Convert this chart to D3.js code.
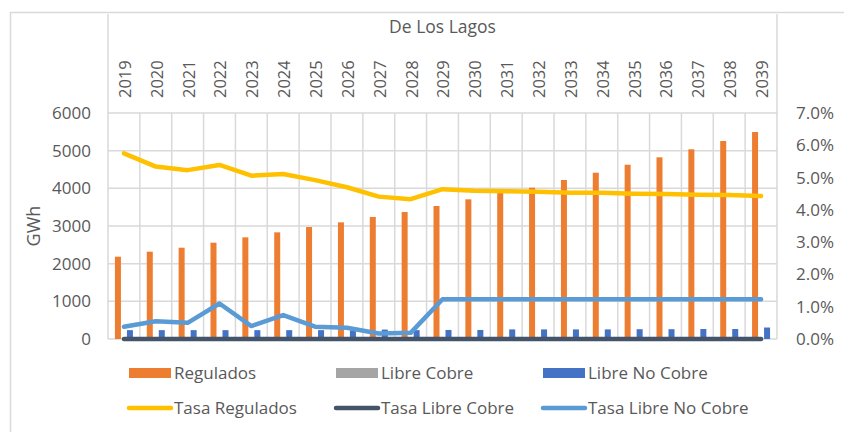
<!DOCTYPE html>
<html>
<head>
<meta charset="utf-8">
<script src="https://cdn.jsdelivr.net/npm/d3@7"></script>
<style>
  html, body { margin: 0; padding: 0; background: #fff; }
  svg { display: block; font-family: 'Open Sans', sans-serif; }
  .chart__text { fill: #595959; }
</style>
</head>
<body>
<div class="chart"></div>
<script>
var years = ['2019', '2020', '2021', '2022', '2023', '2024', '2025', '2026', '2027', '2028',
  '2029', '2030', '2031', '2032', '2033', '2034', '2035', '2036', '2037', '2038', '2039'];

// GWh
var regulados = [2185, 2318, 2424, 2557, 2699, 2832, 2973, 3097, 3239, 3371,
  3531, 3708, 3884, 4017, 4221, 4415, 4627, 4823, 5036, 5256, 5495];
var libreCobre = [0, 0, 0, 0, 0, 0, 0, 0, 0, 0, 0, 0, 0, 0, 0, 0, 0, 0, 0, 0, 0];
var libreNoCobre = [235, 235, 235, 235, 235, 235, 235, 225, 250, 235,
  240, 240, 255, 255, 255, 255, 260, 260, 265, 265, 305];

// tasas, %
var tasaRegulados = [5.75, 5.34, 5.23, 5.39, 5.06, 5.11, 4.92, 4.70, 4.41, 4.33,
  4.64, 4.59, 4.58, 4.56, 4.53, 4.53, 4.50, 4.49, 4.47, 4.46, 4.43];
var tasaLibreCobre = [0, 0, 0, 0, 0, 0, 0, 0, 0, 0, 0, 0, 0, 0, 0, 0, 0, 0, 0, 0, 0];
var tasaLibreNoCobre = [0.38, 0.55, 0.50, 1.10, 0.40, 0.74, 0.38, 0.35, 0.17, 0.19,
  1.23, 1.23, 1.23, 1.23, 1.23, 1.23, 1.23, 1.23, 1.23, 1.23, 1.23];

var leftTicks = [0, 1000, 2000, 3000, 4000, 5000, 6000];
var rightTicks = [0, 1, 2, 3, 4, 5, 6, 7];

var title = 'De Los Lagos';
var yTitle = 'GWh';

var barSeries = [
  { name: 'Regulados', values: regulados, color: '#ED7D31' },
  { name: 'Libre Cobre', values: libreCobre, color: '#A5A5A5' },
  { name: 'Libre No Cobre', values: libreNoCobre, color: '#4472C4' }
];
var lineSeries = [
  { name: 'Tasa Regulados', values: tasaRegulados, color: '#FFC000' },
  { name: 'Tasa Libre Cobre', values: tasaLibreCobre, color: '#44546A' },
  { name: 'Tasa Libre No Cobre', values: tasaLibreNoCobre, color: '#5B9BD5' }
];

var width = 844, height = 432;
var plot = { left: 108, right: 777, top: 113, bottom: 339, header: 14 };
var gridColor = '#d9d9d9';

var svg = d3.select('.chart').append('svg')
    .attr('width', width)
    .attr('height', height);

// outer frame
svg.append('rect')
    .attr('x', 10.5).attr('y', 12.5)
    .attr('width', width).attr('height', height)
    .attr('fill', 'none')
    .attr('stroke', gridColor)
    .attr('stroke-width', 1.5);

var x = d3.scaleBand().domain(years).range([plot.left, plot.right]).padding(0);
var xInner = d3.scaleBand().domain(barSeries.map(function(d) { return d.name; }))
    .range([-9, 9]).padding(0);
var y = d3.scaleLinear().domain([0, 6000]).range([plot.bottom, plot.top]);
var y2 = d3.scaleLinear().domain([0, 7]).range([plot.bottom, plot.top]);

var grid = svg.append('g');

// header + plot borders
grid.selectAll('.vborder')
    .data([plot.left, plot.right])
  .enter().append('line')
    .attr('x1', function(d) { return d; })
    .attr('x2', function(d) { return d; })
    .attr('y1', plot.header)
    .attr('y2', plot.bottom)
    .attr('stroke', gridColor)
    .attr('stroke-width', 1.5);

// category separators
grid.selectAll('.vgrid')
    .data(years.slice(1))
  .enter().append('line')
    .attr('x1', function(d) { return x(d); })
    .attr('x2', function(d) { return x(d); })
    .attr('y1', plot.top)
    .attr('y2', plot.bottom)
    .attr('stroke', gridColor)
    .attr('stroke-width', 1.5);

grid.selectAll('.hgrid')
    .data(leftTicks)
  .enter().append('line')
    .attr('x1', plot.left)
    .attr('x2', plot.right)
    .attr('y1', function(d) { return y(d); })
    .attr('y2', function(d) { return y(d); })
    .attr('stroke', gridColor)
    .attr('stroke-width', 1.5);

// title and year header
svg.append('text')
    .attr('class', 'chart__text')
    .attr('x', (plot.left + plot.right) / 2)
    .attr('y', 33)
    .attr('text-anchor', 'middle')
    .style('font-size', '17.5px')
    .text(title);

svg.selectAll('.year')
    .data(years)
  .enter().append('text')
    .attr('class', 'chart__text')
    .attr('transform', function(d) {
      return 'translate(' + (x(d) + x.bandwidth() / 2 + 1) + ',98) rotate(-90)';
    })
    .attr('dy', '0.36em')
    .style('font-size', '16.5px')
    .text(function(d) { return d; });

// axes
var leftAxis = svg.append('g')
    .attr('transform', 'translate(' + (plot.left - 17) + ',0)')
    .call(d3.axisLeft(y).tickValues(leftTicks).tickSize(0).tickPadding(0)
      .tickFormat(d3.format('d')));
var rightAxis = svg.append('g')
    .attr('transform', 'translate(' + (plot.right + 19) + ',0)')
    .call(d3.axisRight(y2).tickValues(rightTicks).tickSize(0).tickPadding(0)
      .tickFormat(function(d) { return d.toFixed(1) + '%'; }));
[leftAxis, rightAxis].forEach(function(a) {
  a.select('.domain').remove();
  a.selectAll('text')
      .attr('class', 'chart__text')
      .attr('fill', null)
      .style('font-size', '17px')
      .style('font-family', "'Open Sans', sans-serif");
});

svg.append('text')
    .attr('class', 'chart__text')
    .attr('transform', 'translate(34,' + ((plot.top + plot.bottom) / 2) + ') rotate(-90)')
    .attr('text-anchor', 'middle')
    .attr('dy', '0.36em')
    .style('font-size', '18px')
    .text(yTitle);

// bars
var barGroup = svg.append('g');
barSeries.forEach(function(s) {
  barGroup.selectAll(null)
      .data(s.values)
    .enter().append('rect')
      .attr('x', function(d, i) { return x(years[i]) + x.bandwidth() / 2 + xInner(s.name); })
      .attr('width', xInner.bandwidth())
      .attr('y', function(d) { return y(d); })
      .attr('height', function(d) { return y(0) - y(d); })
      .attr('fill', s.color);
});

// lines
var line = d3.line()
    .x(function(d, i) { return x(years[i]) + x.bandwidth() / 2; })
    .y(function(d) { return y2(d); });

svg.append('g').selectAll('path')
    .data(lineSeries)
  .enter().append('path')
    .attr('d', function(d) { return line(d.values); })
    .attr('fill', 'none')
    .attr('stroke', function(d) { return d.color; })
    .attr('stroke-width', 4.5)
    .attr('stroke-linejoin', 'round')
    .attr('stroke-linecap', 'round');

// legend
var legendCols = [129, 336, 543];
var legend = svg.append('g');

barSeries.forEach(function(s, i) {
  legend.append('rect')
      .attr('x', legendCols[i]).attr('y', 368)
      .attr('width', 42).attr('height', 10)
      .attr('fill', s.color);
  legend.append('text')
      .attr('class', 'chart__text')
      .attr('x', legendCols[i] + 45).attr('y', 373)
      .attr('dy', '0.36em')
      .style('font-size', '17px')
      .text(s.name);
});

lineSeries.forEach(function(s, i) {
  legend.append('line')
      .attr('x1', legendCols[i]).attr('x2', legendCols[i] + 42)
      .attr('y1', 408).attr('y2', 408)
      .attr('stroke', s.color)
      .attr('stroke-width', 4.5)
      .attr('stroke-linecap', 'round');
  legend.append('text')
      .attr('class', 'chart__text')
      .attr('x', legendCols[i] + 45).attr('y', 408)
      .attr('dy', '0.36em')
      .style('font-size', '17px')
      .text(s.name);
});
</script>
</body>
</html>
